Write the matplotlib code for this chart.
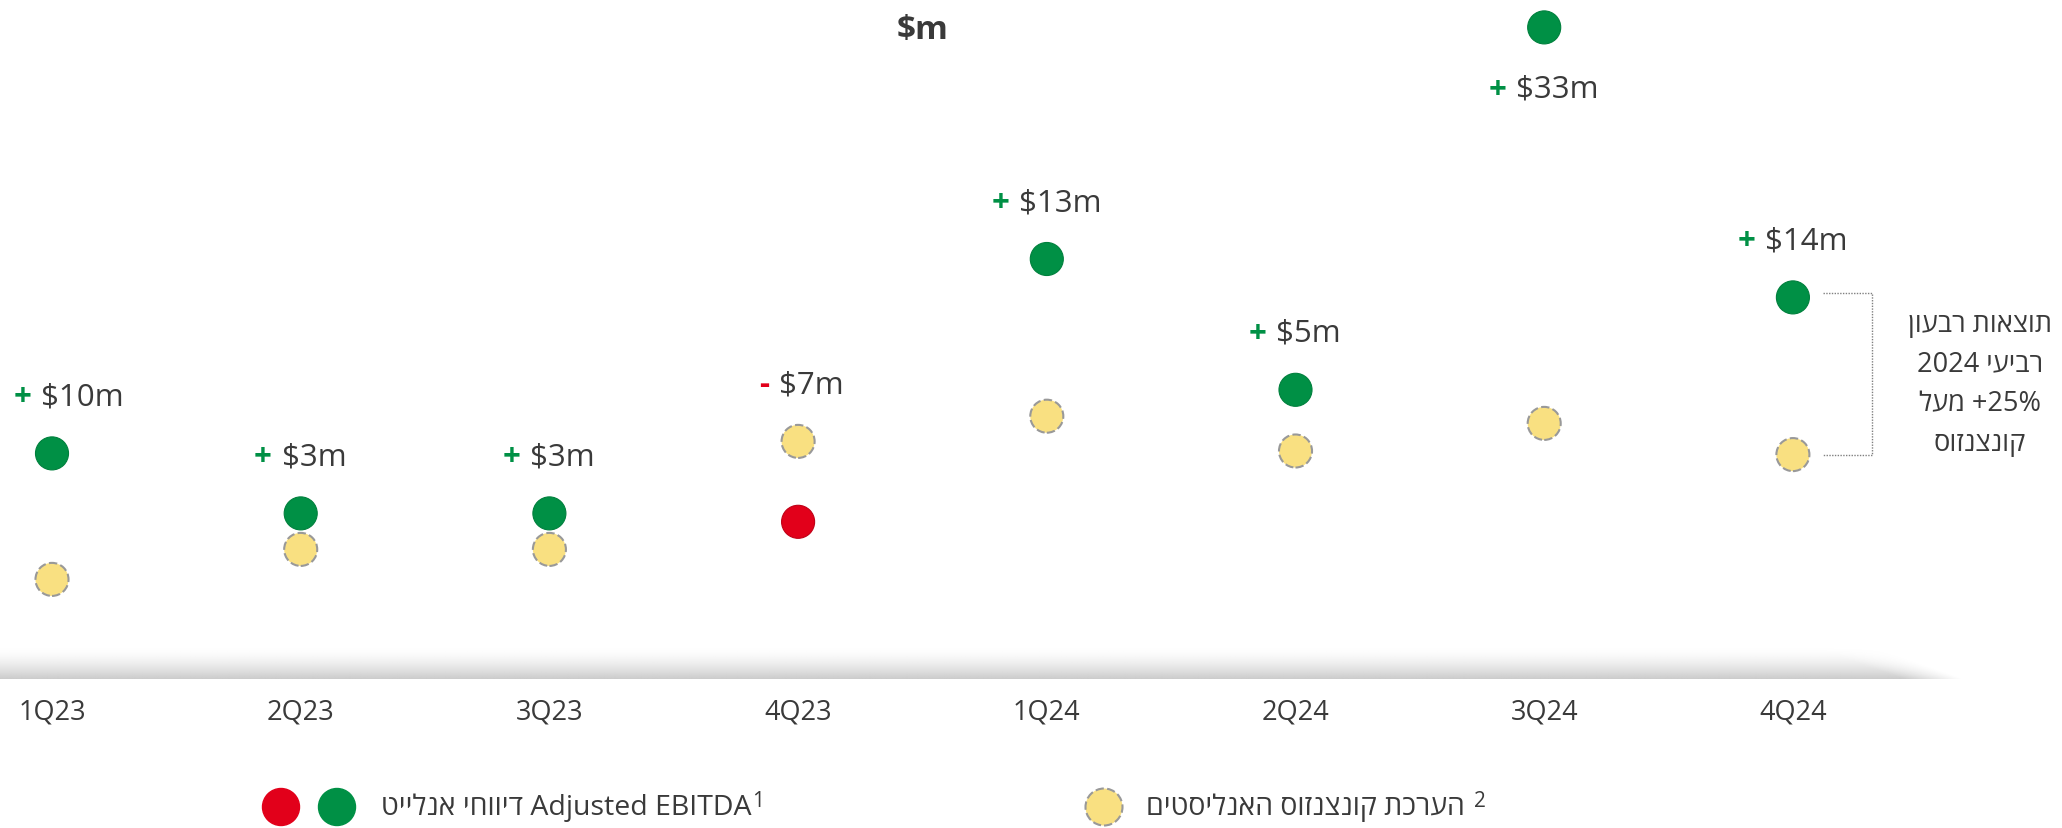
import matplotlib.pyplot as plt
import numpy as np

plt.rcParams['font.family'] = ['Open Sans', 'DejaVu Sans']

# data ($m)
quarters = ['1Q23', '2Q23', '3Q23', '4Q23', '1Q24', '2Q24', '3Q24', '4Q24']
ebitda = [58.8, 53.8, 53.8, 53.1, 75.0, 64.1, 94.3, 71.8]
consensus = [48.3, 50.8, 50.8, 59.8, 61.9, 59.0, 61.3, 58.7]
beat = [10, 3, 3, -7, 13, 5, 33, 14]

GREEN = '#009045'
RED = '#E2001A'
YELLOW = '#F9E081'
TXT = '#3A3A3A'


def heb(s):
    # no bidi in matplotlib, so hebrew has to be given in visual order
    return s[::-1]


W, H = 2062, 829
fig = plt.figure(figsize=(W / 100, H / 100), dpi=100)
ax = fig.add_axes([0, 149 / H, 1, 680 / H])
ax.patch.set_visible(False)
step = 248.7  # px between quarters
x = np.arange(len(quarters))

# grey "floor" shadow above the baseline
nx, ny = 800, 40
gx = np.linspace(0, 1, nx)[None, :]
gy = np.linspace(0, 1, ny)[:, None]
edge = 1 - 0.045 * (1 - gy)
fade = np.clip((edge - gx) / 0.03, 0, 1)
rgba = np.zeros((ny, nx, 4))
rgba[..., :3] = 0.80
rgba[..., 3] = gy ** 1.6 * fade
ax.imshow(rgba, extent=(-52 / step, (1963 - 52) / step, 40, 40 + 32 / 12),
          aspect='auto', zorder=0, interpolation='bilinear')

ax.set_xlim(-52 / step, (W - 52) / step)
ax.set_ylim(40, 40 + 680 / 12)

ax.scatter(x, consensus, s=566, c=YELLOW, edgecolors='#999999', linewidths=1.5,
           linestyles=[(0, (4, 1.6))], zorder=3, clip_on=False)
colors = [GREEN if b > 0 else RED for b in beat]
edges = ['#00803D' if b > 0 else '#C00016' for b in beat]
ax.scatter(x, ebitda, s=566, c=colors, edgecolors=edges, linewidths=0.8, zorder=4, clip_on=False)

ytop = ax.get_ylim()[1]
for i, b in enumerate(beat):
    top = max(ebitda[i], consensus[i])
    dy = 41 if top + 5.5 < ytop else -44
    dx = 22 if i == 0 else 9.5
    val = ax.annotate(f'${abs(b)}m', (i, top), xytext=(dx, dy), textcoords='offset points',
                      ha='center', va='center', fontsize=22.5, color=TXT)
    ax.annotate('+' if b > 0 else '-', xy=(0, 0.5), xycoords=val, xytext=(-7, 0),
                textcoords='offset points', ha='right', va='center', fontsize=22.5,
                fontweight='bold', color=colors[i])

# bracket + note for 4Q24
bx0, bx1 = 7 + 30 / step, 7 + 79 / step
ax.plot([bx0, bx1, bx1, bx0], [ebitda[7] + 0.4, ebitda[7] + 0.4, consensus[7], consensus[7]],
        color='#808080', lw=1, ls=(0, (1, 1)), zorder=2)
note = '\n'.join([heb('תוצאות רבעון'), '2024 ' + heb('רביעי'), heb('מעל') + ' +25%', heb('קונצנזוס')])
ax.text(7 + 187 / step, (ebitda[7] + consensus[7]) / 2 - 0.6, note, ha='center', va='center',
        fontsize=19.5, color=TXT, linespacing=1.55)

ax.set_xticks(x, quarters)
ax.set_yticks([])
ax.tick_params(axis='x', length=0, pad=13, labelsize=19.5, labelcolor=TXT)
for sp in ax.spines.values():
    sp.set_visible(False)

fig.text(923 / W, 1 - 31 / H, '$m', ha='center', va='center', fontsize=24,
         fontweight='bold', color=TXT)

# legend, drawn by hand in pixel coords
lx = fig.add_axes([0, 0, 1, 1])
lx.set_xlim(0, W)
lx.set_ylim(H, 0)
lx.axis('off')
ly = 808
lx.scatter([281, 337], [ly, ly], s=710, c=[RED, GREEN], clip_on=False)
t1 = lx.text(381, ly, heb('דיווחי אנלייט') + ' Adjusted EBITDA', ha='left', va='center',
             fontsize=20.5, color=TXT)
lx.annotate('1', xy=(1, 1), xycoords=t1, xytext=(0.5, 2), textcoords='offset points',
            ha='left', va='top', fontsize=15, color=TXT)
lx.scatter([1104], [ly], s=710, c=YELLOW, edgecolors='#999999', linewidths=1.5,
           linestyles=[(0, (4, 1.6))], clip_on=False)
t2 = lx.text(1146, ly, heb('הערכת קונצנזוס האנליסטים'), ha='left', va='center',
             fontsize=20.5, color=TXT)
lx.annotate('2', xy=(1, 1), xycoords=t2, xytext=(7, 2), textcoords='offset points',
            ha='left', va='top', fontsize=15, color=TXT)

fig.savefig('out.png', dpi=100)
